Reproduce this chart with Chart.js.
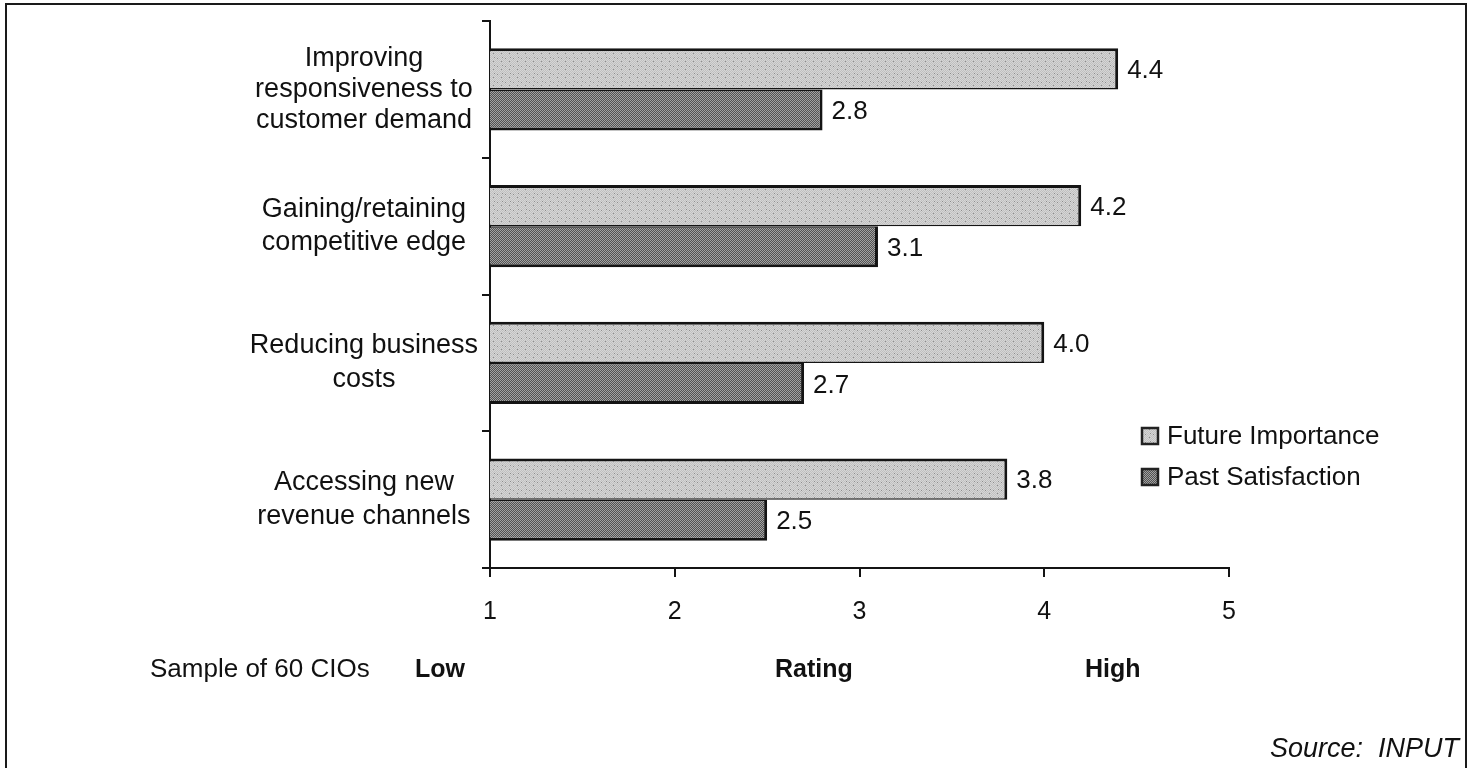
<!DOCTYPE html>
<html>
<head>
<meta charset="utf-8">
<title>CIO Ratings of IT Objectives</title>
<script src="https://cdn.jsdelivr.net/npm/chart.js"></script>
<style>
  body {
    margin: 0;
    width: 1475px;
    height: 768px;
    overflow: hidden;
    background: #fff;
    font-family: "Liberation Sans", Arial, sans-serif;
    color: #111;
  }
  #frame {
    position: absolute;
    left: 5px;
    top: 3px;
    width: 1458px;
    height: 800px;
    border: 2px solid #1a1a1a;
    border-bottom: none;
  }
  #chart-box {
    position: absolute;
    left: 0;
    top: 0;
    width: 1475px;
    height: 768px;
  }
  .note {
    position: absolute;
    font-size: 26px;
    line-height: 30px;
    white-space: nowrap;
  }
  .bold { font-weight: bold; font-size: 25px; }
  .italic { font-style: italic; font-size: 27px; }
</style>
</head>
<body>
<div id="frame"></div>
<div id="chart-box"><canvas id="chart" width="1475" height="768"></canvas></div>

<div class="note" style="left:150px; top:653px;">Sample of 60 CIOs</div>
<div class="note bold" style="left:415px; top:653px;">Low</div>
<div class="note bold" style="left:775px; top:653px;">Rating</div>
<div class="note bold" style="left:1085px; top:653px;">High</div>
<div class="note italic" style="left:1270px; top:733px;">Source:&nbsp; INPUT</div>

<script>
// objectives, top to bottom
var objectives = [
  ['Improving', 'responsiveness to', 'customer demand'],
  ['Gaining/retaining', 'competitive edge'],
  ['Reducing business', 'costs'],
  ['Accessing new', 'revenue channels']
];
var futureImportance = [4.4, 4.2, 4.0, 3.8];
var pastSatisfaction = [2.8, 3.1, 2.7, 2.5];
var ratingTicks = [1, 2, 3, 4, 5];

var FONT = '"Liberation Sans", Arial, sans-serif';

// stippled fills, like the old laser-printer shading
function makeTile(size, light, dark, specks) {
  var c = document.createElement('canvas');
  c.width = size;
  c.height = size;
  var g = c.getContext('2d');
  for (var y = 0; y < size; y++) {
    for (var x = 0; x < size; x++) {
      g.fillStyle = (x + y) % 2 ? dark : light;
      g.fillRect(x, y, 1, 1);
    }
  }
  g.fillStyle = '#8c8c8c';
  specks.forEach(function (p) { g.fillRect(p[0], p[1], 1, 1); });
  return g.createPattern(c, 'repeat');
}
var lightFill = makeTile(8, '#d6d6d6', '#c0c0c0', [[1, 2], [5, 5], [6, 1]]);
var darkFill = makeTile(4, '#a2a2a2', '#525252', []);

// "4.4" etc. to the right of each bar
var valueLabels = {
  id: 'valueLabels',
  afterDatasetsDraw: function (chart) {
    var ctx = chart.ctx;
    ctx.save();
    ctx.font = '26px ' + FONT;
    ctx.fillStyle = '#111';
    ctx.textBaseline = 'middle';
    chart.data.datasets.forEach(function (ds, i) {
      chart.getDatasetMeta(i).data.forEach(function (bar, j) {
        ctx.fillText(ds.data[j].toFixed(1), bar.x + 9, bar.y + 2);
      });
    });
    ctx.restore();
  }
};

// legend sits inside the plot, lower right
var sideLegend = {
  id: 'sideLegend',
  afterDraw: function (chart) {
    var ctx = chart.ctx;
    var x = 1141, y = 436;
    ctx.save();
    ctx.font = '26px ' + FONT;
    ctx.textBaseline = 'middle';
    chart.data.datasets.forEach(function (ds) {
      ctx.fillStyle = ds.backgroundColor;
      ctx.fillRect(x, y - 9, 18, 18);
      ctx.strokeStyle = '#222';
      ctx.lineWidth = 2.5;
      ctx.strokeRect(x + 1, y - 8, 16, 16);
      ctx.fillStyle = '#111';
      ctx.fillText(ds.label, x + 26, y + 1);
      y += 41;
    });
    ctx.restore();
  }
};

new Chart(document.getElementById('chart'), {
  type: 'bar',
  data: {
    labels: objectives,
    datasets: [{
      label: 'Future Importance',
      data: futureImportance,
      backgroundColor: lightFill,
      borderColor: '#141414',
      borderWidth: { top: 3, right: 3, bottom: 1.5, left: 0 },
      borderSkipped: false
    }, {
      label: 'Past Satisfaction',
      data: pastSatisfaction,
      backgroundColor: darkFill,
      borderColor: '#141414',
      borderWidth: { top: 1.5, right: 3, bottom: 3, left: 0 },
      borderSkipped: false
    }]
  },
  options: {
    indexAxis: 'y',
    responsive: false,
    animation: false,
    categoryPercentage: 0.6,
    barPercentage: 1.0,
    layout: { padding: { left: 0, top: 21, right: 246, bottom: 140 } },
    plugins: {
      legend: { display: false },
      tooltip: { enabled: false }
    },
    scales: {
      x: {
        min: 1,
        max: 5,
        afterBuildTicks: function (scale) {
          scale.ticks = ratingTicks.map(function (v) { return { value: v }; });
        },
        afterFit: function (scale) {
          scale.height = 60;
          scale.paddingLeft = 0;
          scale.paddingRight = 0;
        },
        border: { display: true, color: '#141414', width: 2 },
        grid: {
          drawOnChartArea: false,
          color: '#141414',
          lineWidth: 2,
          tickLength: 9
        },
        ticks: {
          color: '#111',
          padding: 20,
          font: { family: FONT, size: 25 }
        }
      },
      y: {
        afterFit: function (scale) {
          scale.width = 490;
          scale.paddingTop = 0;
          scale.paddingBottom = 0;
        },
        border: { display: true, color: '#141414', width: 2 },
        grid: {
          offset: true,
          drawOnChartArea: false,
          color: '#141414',
          lineWidth: 2,
          tickLength: 8
        },
        ticks: {
          color: '#111',
          crossAlign: 'center',
          padding: 4,
          font: function (ctx) {
            // the three-line label is set a little tighter
            return { family: FONT, size: 27, lineHeight: ctx.index === 0 ? 1.15 : 1.25 };
          }
        }
      }
    }
  },
  plugins: [valueLabels, sideLegend]
});
</script>
</body>
</html>
